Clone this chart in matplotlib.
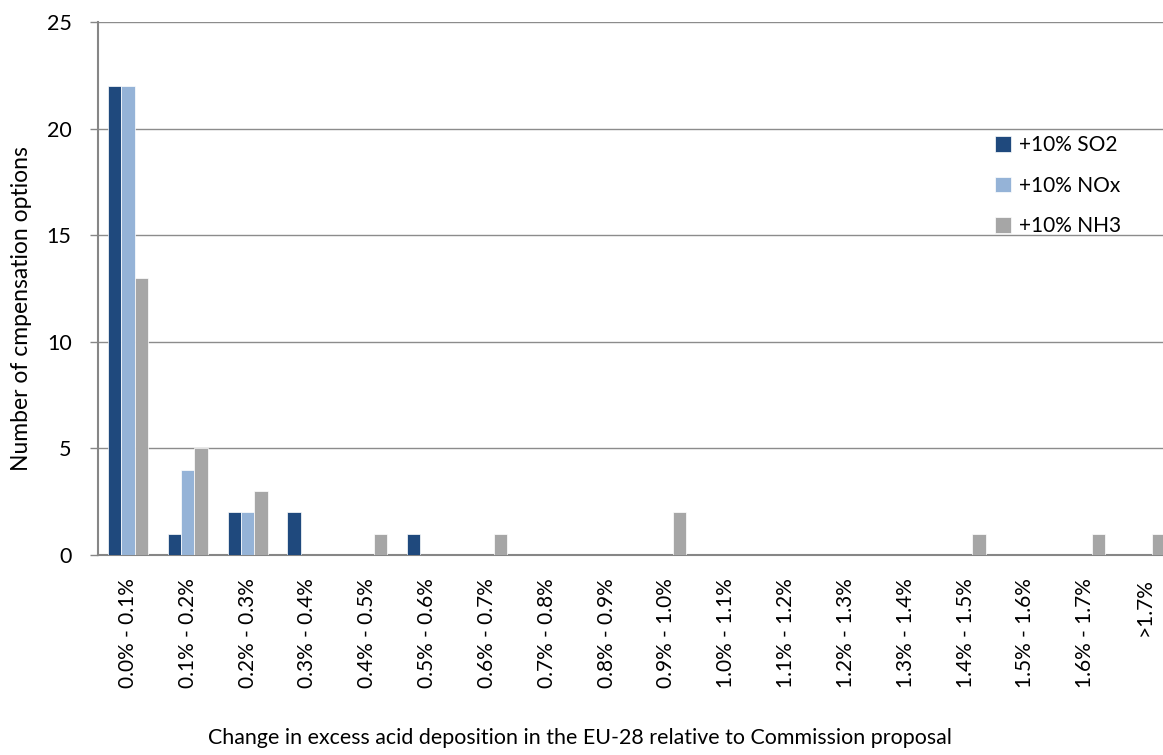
import matplotlib
matplotlib.use("Agg")
import matplotlib.pyplot as plt
import numpy as np

plt.rcParams['font.family'] = ['Lato', 'DejaVu Sans']

categories = ["0.0% - 0.1%", "0.1% - 0.2%", "0.2% - 0.3%", "0.3% - 0.4%",
              "0.4% - 0.5%", "0.5% - 0.6%", "0.6% - 0.7%", "0.7% - 0.8%",
              "0.8% - 0.9%", "0.9% - 1.0%", "1.0% - 1.1%", "1.1% - 1.2%",
              "1.2% - 1.3%", "1.3% - 1.4%", "1.4% - 1.5%", "1.5% - 1.6%",
              "1.6% - 1.7%", ">1.7%"]
so2 = [22, 1, 2, 2, 0, 1, 0, 0, 0, 0, 0, 0, 0, 0, 0, 0, 0, 0]
nox = [22, 4, 2, 0, 0, 0, 0, 0, 0, 0, 0, 0, 0, 0, 0, 0, 0, 0]
nh3 = [13, 5, 3, 0, 1, 0, 1, 0, 0, 2, 0, 0, 0, 0, 1, 0, 1, 1]
series_names = ["+10% SO2", "+10% NOx", "+10% NH3"]
colors = ["#1F497D", "#95B3D7", "#A6A6A6"]

W, H = 1163, 755
fig = plt.figure(figsize=(W / 100, H / 100), dpi=100)
# plot area runs slightly past the right edge of the figure
left, right, top, bottom = 98, 1175, 22, 555
ax = fig.add_axes([left / W, 1 - bottom / H, (right - left) / W, (bottom - top) / H])

x = np.arange(len(categories))
bw = 0.222
for i, (vals, name, c) in enumerate(zip([so2, nox, nh3], series_names, colors)):
    ax.bar(x + (i - 1) * bw, vals, width=bw, color=c, label=name,
           edgecolor="white", linewidth=0.5, zorder=3)

ax.set_xlim(-0.5, len(categories) - 0.5)
ax.set_ylim(0, 25)
ax.set_yticks([0, 5, 10, 15, 20, 25])
ax.yaxis.grid(True, color="#8C8C8C", linewidth=1.0, zorder=0)
ax.set_axisbelow(True)

for s in ["top", "right"]:
    ax.spines[s].set_visible(False)
for s in ["left", "bottom"]:
    ax.spines[s].set_color("#868686")
    ax.spines[s].set_linewidth(1.5)

ax.tick_params(axis="y", length=6, width=1, color="#868686", labelsize=15.5, pad=13,
               labelcolor="#000000")
ax.tick_params(axis="x", length=0, pad=17, labelsize=15)
ax.set_xticks(x)
ax.set_xticklabels(categories, rotation=90, va="top", ha="center")

fig.text(22 / W, 1 - 309 / H, "Number of cmpensation options", rotation=90,
         ha="center", va="center", fontsize=16.5)
fig.text(580 / W, 1 - 738 / H, "Change in excess acid deposition in the EU-28 relative to Commission proposal",
         ha="center", va="center", fontsize=15.4)

leg = ax.legend(loc="upper left", bbox_to_anchor=(987 / W, 1 - 127 / H),
                bbox_transform=fig.transFigure, frameon=False, fontsize=15,
                handlelength=0.75, handleheight=0.75, handletextpad=0.4,
                labelspacing=0.98, borderaxespad=0)

fig.savefig("out.png", dpi=100, facecolor="white")
